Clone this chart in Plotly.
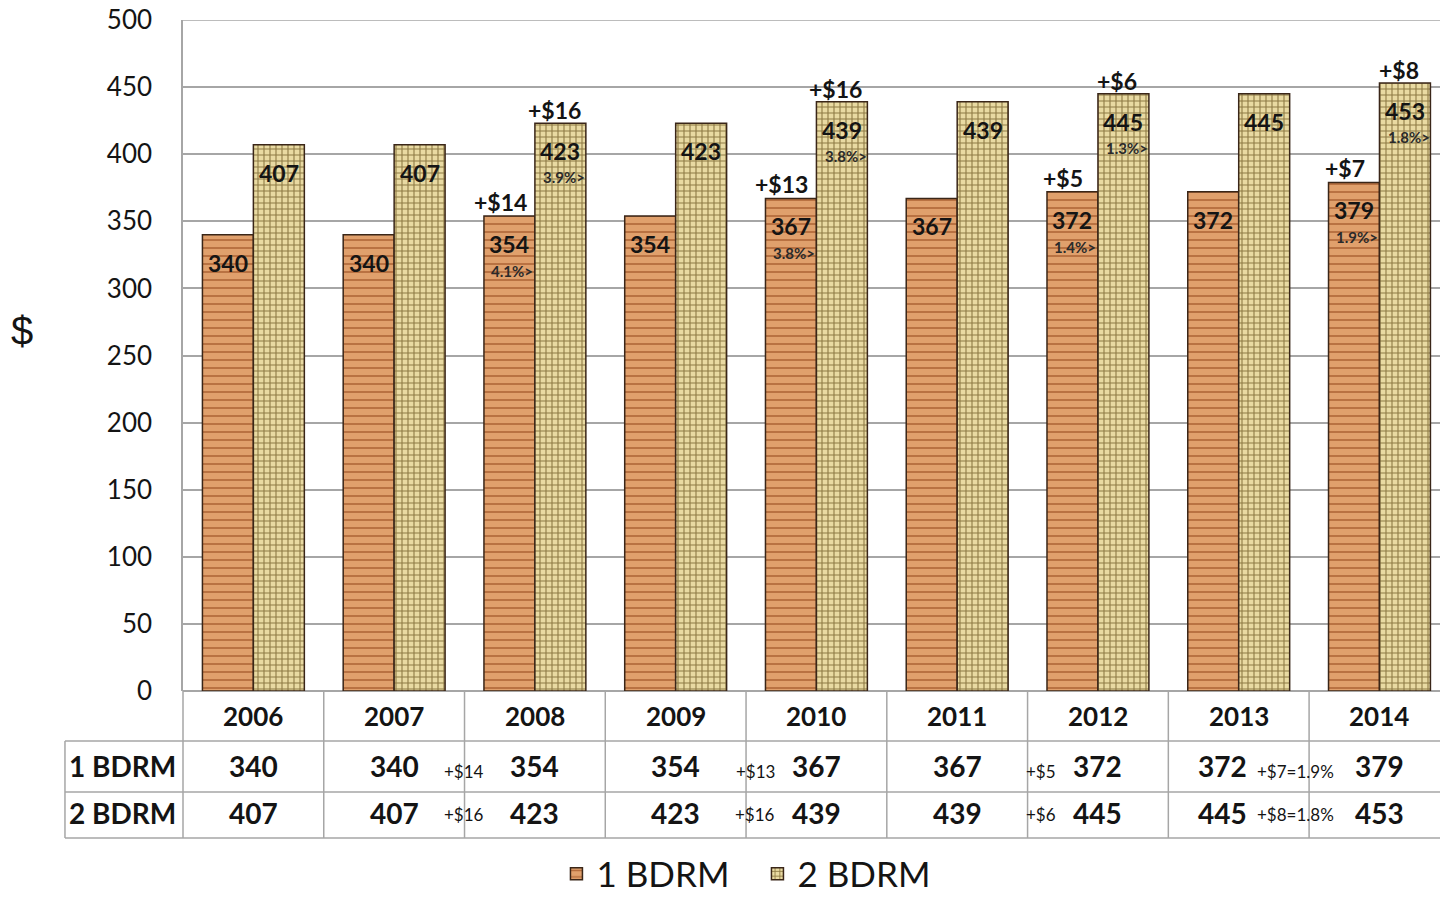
import plotly.graph_objects as go

years = ["2006", "2007", "2008", "2009", "2010", "2011", "2012", "2013", "2014"]
one_bdrm = [340, 340, 354, 354, 367, 367, 372, 372, 379]
two_bdrm = [407, 407, 423, 423, 439, 439, 445, 445, 453]

one_inc = ["", "", "+$14", "", "+$13", "", "+$5", "", "+$7"]
one_pct = ["", "", "4.1%>", "", "3.8%>", "", "1.4%>", "", "1.9%>"]
two_inc = ["", "", "+$16", "", "+$16", "", "+$6", "", "+$8"]
two_pct = ["", "", "3.9%>", "", "3.8%>", "", "1.3%>", "", "1.8%>"]

one_notes = ["", "", "+$14", "", "+$13", "", "+$5", "", "+$7=1.9%"]
two_notes = ["", "", "+$16", "", "+$16", "", "+$6", "", "+$8=1.8%"]

row_labels = ["1 BDRM", "2 BDRM"]
y_ticks = [0, 50, 100, 150, 200, 250, 300, 350, 400, 450, 500]

FONT = "Lato"
TXT = "#141414"
GRID = "#a6a6a6"

# layout-only pixel nudges for the table text
note_shift = [0, 0, -1, 0, 9, 0, 13, 0, -14]
value_shift = [0, 0, 0, 0, 0, 0, 0, -16, 0]

xs = list(range(len(years)))
BW = 0.362
off = BW / 2

fig = go.Figure()
fig.add_trace(go.Bar(
    x=xs, y=one_bdrm, name="1 BDRM", width=BW, offset=-BW,
    marker=dict(color="#d98f58",
                line=dict(color="#3a2618", width=1.5),
                pattern=dict(shape="-", fgcolor="#b46c3c", bgcolor="#e0a06c",
                             size=8, solidity=0.22, fillmode="replace")),
))
fig.add_trace(go.Bar(
    x=xs, y=two_bdrm, name="2 BDRM", width=BW, offset=0,
    marker=dict(color="#e6d49c",
                line=dict(color="#3a2618", width=1.5),
                pattern=dict(shape="+", fgcolor="#8e7a44", bgcolor="#e9daa2",
                             size=6, solidity=0.33, fillmode="replace")),
))


def A(**kw):
    kw.setdefault("showarrow", False)
    kw.setdefault("xanchor", "center")
    kw.setdefault("yanchor", "middle")
    return kw


ann = []
for i, (a, b) in enumerate(zip(one_bdrm, two_bdrm)):
    ann.append(A(x=i - off, y=a, xref="x", yref="y", text=str(a), yshift=-28,
                 font=dict(family=FONT, size=23, color=TXT, weight="bold")))
    ann.append(A(x=i + off, y=b, xref="x", yref="y", text=str(b), yshift=-28,
                 font=dict(family=FONT, size=23, color=TXT, weight="bold")))
    if one_inc[i]:
        ann.append(A(x=i - off, y=a, xref="x", yref="y", text=one_inc[i], yshift=14, xshift=-9,
                     font=dict(family=FONT, size=23, color=TXT, weight="bold")))
        ann.append(A(x=i - off, y=a, xref="x", yref="y", text=one_pct[i], yshift=-55, xshift=3,
                     font=dict(family=FONT, size=15, color="#2a2a2a", weight="bold")))
    if two_inc[i]:
        ann.append(A(x=i + off, y=b, xref="x", yref="y", text=two_inc[i], yshift=13, xshift=-6,
                     font=dict(family=FONT, size=23, color=TXT, weight="bold")))
        ann.append(A(x=i + off, y=b, xref="x", yref="y", text=two_pct[i], yshift=-54, xshift=4,
                     font=dict(family=FONT, size=15, color="#2a2a2a", weight="bold")))

# data table below the plot
Y_HEAD, Y_R1, Y_R2 = -0.0373, -0.1118, -0.1818
for i, yr in enumerate(years):
    ann.append(A(x=i, y=Y_HEAD, xref="x", yref="paper", text=yr,
                 font=dict(family=FONT, size=26, color=TXT, weight="bold")))
    ann.append(A(x=i, y=Y_R1, xref="x", yref="paper", text=str(one_bdrm[i]), xshift=value_shift[i],
                 font=dict(family=FONT, size=28, color=TXT, weight="bold")))
    ann.append(A(x=i, y=Y_R2, xref="x", yref="paper", text=str(two_bdrm[i]), xshift=value_shift[i],
                 font=dict(family=FONT, size=28, color=TXT, weight="bold")))
    if one_notes[i]:
        ann.append(A(x=i - 0.5, y=Y_R1, xref="x", yref="paper", text=one_notes[i], yshift=-5,
                     xshift=note_shift[i], font=dict(family=FONT, size=17, color=TXT)))
        ann.append(A(x=i - 0.5, y=Y_R2, xref="x", yref="paper", text=two_notes[i], yshift=-2,
                     xshift=note_shift[i], font=dict(family=FONT, size=17, color=TXT)))
for lab, yy in zip(row_labels, [Y_R1, Y_R2]):
    ann.append(A(x=-0.0485, y=yy, xref="paper", yref="paper", text=lab,
                 font=dict(family=FONT, size=28, color=TXT, weight="bold")))

ann.append(A(x=-0.128, y=0.536, xref="paper", yref="paper", text="$",
             font=dict(family="Liberation Sans", size=40, color=TXT)))

shapes = []
XL = -0.0939
for yy in [-0.0745, -0.1505, -0.219]:
    shapes.append(dict(type="line", xref="paper", yref="paper", x0=XL, x1=1.0, y0=yy, y1=yy,
                       line=dict(color=GRID, width=1.5)))
shapes.append(dict(type="line", xref="paper", yref="paper", x0=XL, x1=XL, y0=-0.0745, y1=-0.219,
                   line=dict(color=GRID, width=1.5)))
shapes.append(dict(type="line", xref="paper", yref="paper", x0=0, x1=0, y0=0, y1=-0.219,
                   line=dict(color=GRID, width=1.5)))
for i in range(1, len(years)):
    shapes.append(dict(type="line", xref="x", yref="paper", x0=i - 0.5, x1=i - 0.5, y0=0, y1=-0.219,
                       line=dict(color=GRID, width=1.5)))
shapes.append(dict(type="line", xref="paper", yref="y", x0=0, x1=1, y0=y_ticks[-1], y1=y_ticks[-1],
                   line=dict(color=GRID, width=1.5), layer="below"))

fig.update_layout(
    width=1440, height=899,
    margin=dict(l=183, r=0, t=20, b=208, autoexpand=False),
    paper_bgcolor="white", plot_bgcolor="white",
    barmode="overlay",
    showlegend=True,
    legend=dict(orientation="h", x=0.457, xanchor="center", y=-0.2727, yanchor="middle",
                font=dict(family=FONT, size=35, color=TXT), itemwidth=30,
                entrywidth=156, bgcolor="rgba(0,0,0,0)"),
    annotations=ann,
    shapes=shapes,
    xaxis=dict(range=[-0.5, 8.43], showticklabels=False, showgrid=False, zeroline=False,
               ticks="", showline=False, fixedrange=True),
    yaxis=dict(range=[0, 500], tickvals=y_ticks, showgrid=True, gridcolor=GRID, gridwidth=1.5,
               zeroline=True, zerolinecolor=GRID, zerolinewidth=1.5,
               showline=True, linecolor=GRID, linewidth=1.5, ticks="",
               tickfont=dict(family=FONT, size=26, color=TXT), ticklabelstandoff=24),
)

fig.write_html("out.html", config={"displayModeBar": False},
               post_script="document.body.style.margin='0px';")
